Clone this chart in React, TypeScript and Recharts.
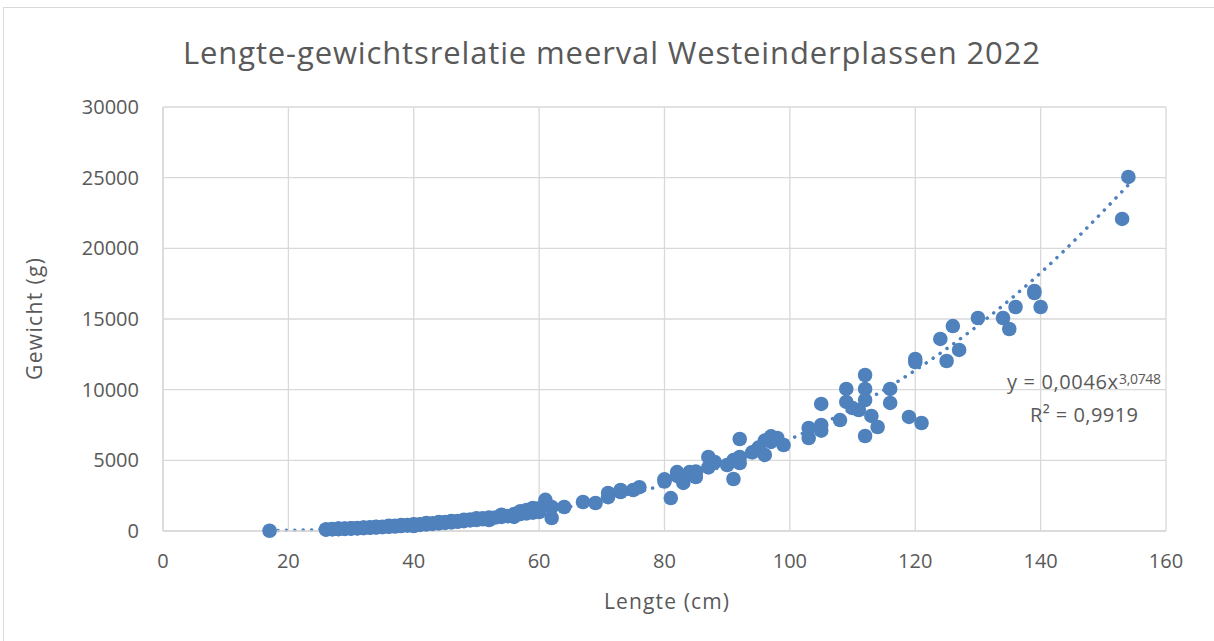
import { ComposedChart, Scatter, Line, XAxis, YAxis, CartesianGrid } from 'recharts';

const BLUE = '#4F81BD';
const TEXT = '#595959';
const GRID = '#d9d9d9';
const FONT = '"Open Sans", Lato, sans-serif';

// lengte (cm) / gewicht (g) per gevangen meerval
const lengths = [
  17,
  26, 26, 27, 27, 28, 28, 28, 29, 29, 30, 30, 30, 31, 31, 32, 32, 32, 33, 33,
  34, 34, 34, 35, 35, 36, 36, 36, 37, 37, 38, 38, 38, 39, 39, 40, 40, 40, 40,
  41, 41, 42, 42, 42, 43, 43, 44, 44, 44, 45, 45, 46, 46, 46, 47, 47, 48, 48, 48,
  49, 49, 50, 50, 50, 51, 51, 52, 52, 52, 53, 54, 54, 55, 56, 56, 56, 57, 57,
  58, 58, 59, 59, 60, 60, 60, 61, 61, 62, 62, 64,
  67, 69, 71, 71, 73, 73, 75, 76, 80, 80, 81, 82, 82, 83, 83, 84, 85, 85,
  87, 87, 88, 90, 91, 91, 92, 92, 92, 94, 95, 96, 96, 97, 97, 98, 99,
  103, 103, 105, 105, 105, 108, 109, 109, 110, 111, 112, 112, 112, 112,
  113, 114, 116, 116, 119, 120, 120, 121, 124, 125, 126, 127, 130, 134,
  135, 136, 139, 139, 140, 153, 154,
];
const weights = [
  20,
  100, 110, 120, 135, 130, 150, 165, 150, 170, 165, 180, 195, 185, 205, 200, 225, 245, 230, 255,
  250, 275, 300, 270, 305, 300, 330, 365, 320, 360, 350, 385, 420, 380, 425, 350, 400, 445, 480,
  430, 475, 470, 520, 560, 500, 545, 540, 590, 625, 570, 635, 610, 660, 705, 650, 700, 700, 750, 800,
  750, 810, 780, 850, 900, 830, 895, 780, 880, 950, 950, 1000, 1150, 1050, 1000, 1100, 1200, 1200, 1400,
  1250, 1490, 1300, 1630, 1340, 1450, 1600, 2200, 1840, 920, 1700, 1700,
  2050, 1980, 2400, 2690, 2760, 2900, 2900, 3100, 3500, 3650, 2330, 4170, 3900, 3400, 3800, 4170, 3820, 4200,
  5240, 4500, 4880, 4670, 3680, 5020, 6510, 4810, 5240, 5560, 5900, 5380, 6400, 6700, 6300, 6580, 6080,
  7290, 6580, 7500, 7100, 8990, 7850, 10050, 9130, 8700, 8560, 11040, 10050, 9270, 6720,
  8140, 7360, 10050, 9060, 8070, 12170, 11960, 7640, 13590, 12030, 14500, 12810, 15070, 15070,
  14290, 15850, 16980, 16840, 15850, 22080, 25050,
];

// machtstrendlijn
const trendLengths = [17, 30, 40, 50, 60, 70, 80, 90, 100, 110, 120, 130, 140, 154];
const trendWeights = [28, 160, 388, 770, 1349, 2168, 3269, 4695, 6491, 8703, 11372, 14545, 18267, 24488];

const xTicks = [0, 20, 40, 60, 80, 100, 120, 140, 160];
const yTicks = [0, 5000, 10000, 15000, 20000, 25000, 30000];

const points = lengths.map((l, i) => ({ l, w: weights[i] }));
const trend = trendLengths.map((l, i) => ({ l, w: trendWeights[i] }));

const Dot = (props: any) => <circle cx={props.cx} cy={props.cy} r={7.3} fill={BLUE} />;

const tickStyle = { fill: TEXT, fontSize: 20, fontFamily: FONT };

export default function App() {
  return (
    <div style={{ position: 'absolute', left: 0, top: 0, width: 1214, height: 641, overflow: 'hidden', background: '#fff' }}>
      <div style={{ position: 'absolute', left: 3, top: 7, width: 1240, height: 660, border: '1px solid #d9d9d9' }} />
      <div style={{ position: 'absolute', left: 0, top: 0 }}>
        <ComposedChart width={1214} height={641} margin={{ top: 107, right: 48, bottom: 50, left: 83 }}>
          <CartesianGrid stroke={GRID} strokeWidth={1.3} />
          <XAxis
            type="number"
            dataKey="l"
            domain={[0, 160]}
            ticks={xTicks}
            height={60}
            tickSize={0}
            tickLine={false}
            tickMargin={23}
            axisLine={{ stroke: GRID, strokeWidth: 1.3 }}
            tick={tickStyle}
          />
          <YAxis
            type="number"
            dataKey="w"
            domain={[0, 30000]}
            ticks={yTicks}
            width={80}
            tickSize={0}
            tickLine={false}
            tickMargin={24}
            axisLine={{ stroke: GRID, strokeWidth: 1.3 }}
            tick={tickStyle}
          />
          <Scatter data={points} shape={Dot} isAnimationActive={false} />
          <Line
            data={trend}
            dataKey="w"
            type="monotone"
            stroke={BLUE}
            strokeWidth={3.5}
            strokeDasharray="0.1 8.3"
            strokeLinecap="round"
            dot={false}
            activeDot={false}
            isAnimationActive={false}
          />
        </ComposedChart>
      </div>
      <svg width={1214} height={641} style={{ position: 'absolute', left: 0, top: 0, pointerEvents: 'none' }} fontFamily={FONT} fill={TEXT}>
        <text x={611.5} y={64} fontSize={31} textAnchor="middle" textLength={857} lengthAdjust="spacing">
          Lengte-gewichtsrelatie meerval Westeinderplassen 2022
        </text>
        <text x={666.5} y={609} fontSize={21} textAnchor="middle" textLength={125} lengthAdjust="spacing">
          Lengte (cm)
        </text>
        <text x={42} y={319} fontSize={21} textAnchor="middle" transform="rotate(-90 42 319)" textLength={122} lengthAdjust="spacing">
          Gewicht (g)
        </text>
        <text x={1007} y={389} fontSize={20} textLength={111} lengthAdjust="spacing">
          y = 0,0046x
        </text>
        <text x={1119} y={384} fontSize={14} textLength={42} lengthAdjust="spacing">
          3,0748
        </text>
        <text x={1030} y={422} fontSize={20} textLength={108} lengthAdjust="spacing">
          R² = 0,9919
        </text>
      </svg>
    </div>
  );
}
